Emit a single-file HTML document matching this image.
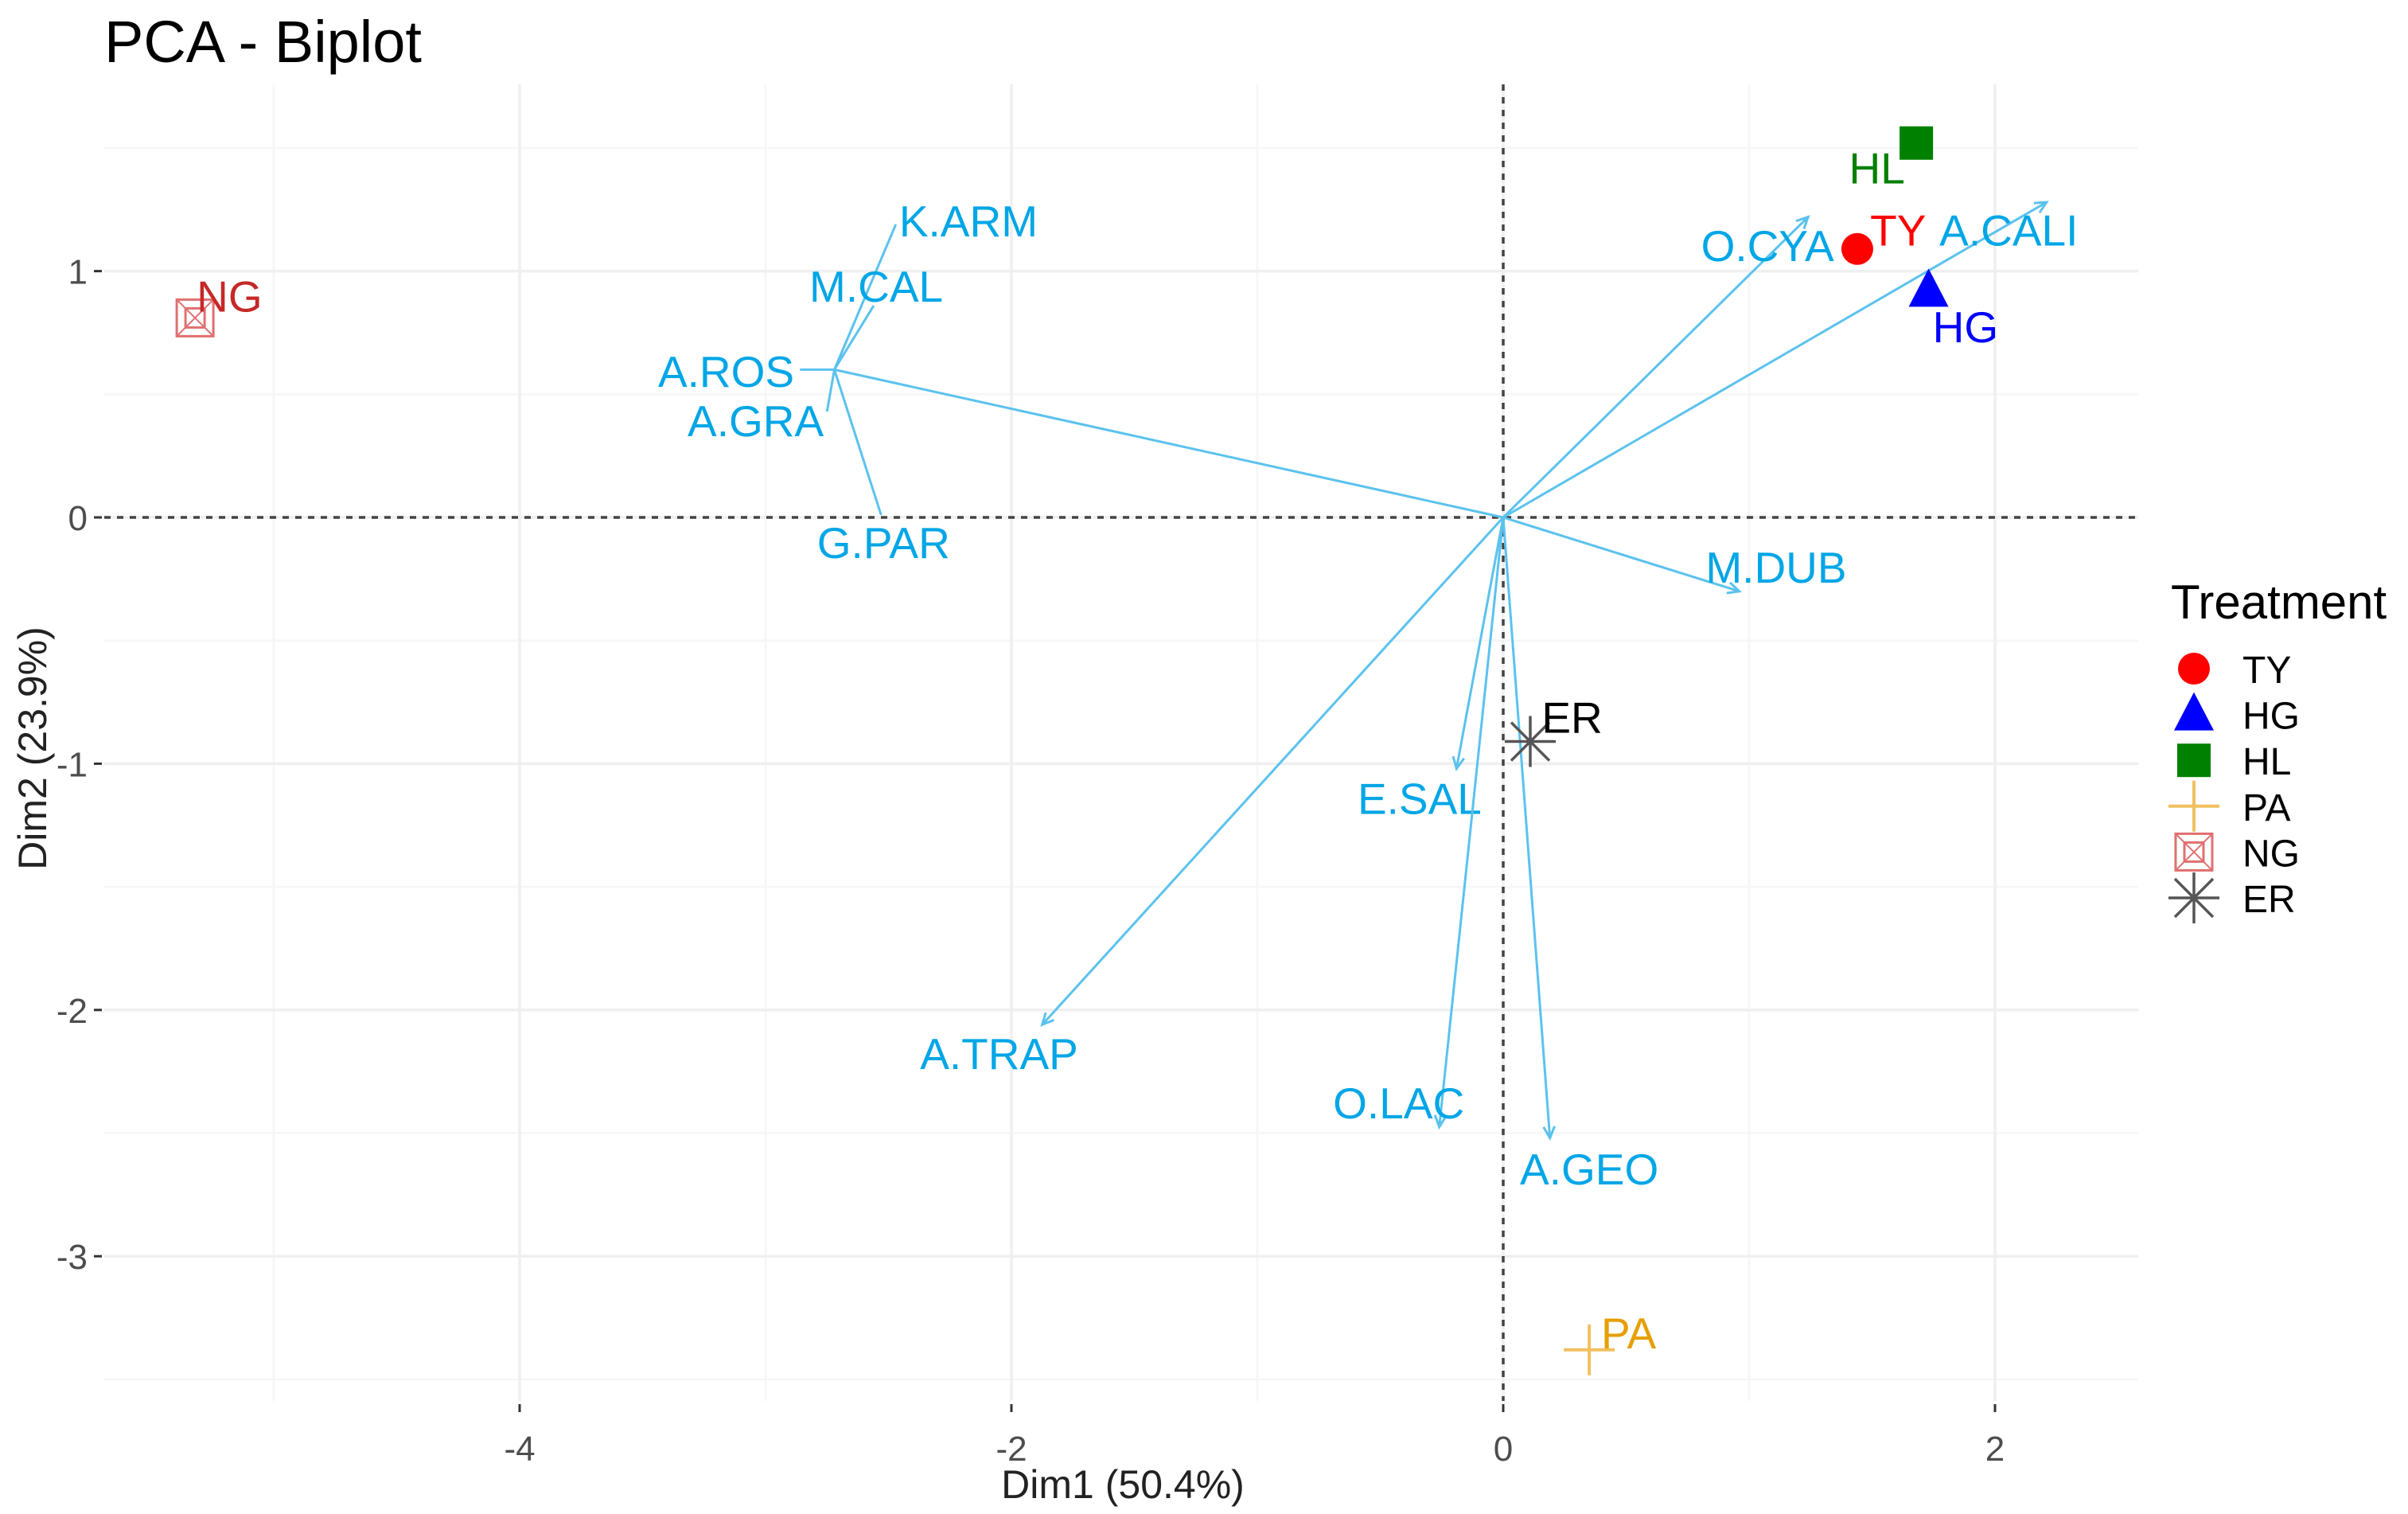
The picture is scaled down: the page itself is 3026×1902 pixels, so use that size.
<!DOCTYPE html>
<html><head><meta charset="utf-8"><style>
html,body{margin:0;padding:0;background:#fff;}
svg{display:block;font-family:"Liberation Sans",Arial,sans-serif;}
</style></head><body>
<svg id="chart" width="3026" height="1902" viewBox="0 0 3026 1902" xmlns="http://www.w3.org/2000/svg">
<rect width="3026" height="1902" fill="#fff"/>
<text x="131" y="78" font-size="74" fill="#000">PCA - Biplot</text>
<g id="grid"></g>
<g id="ref"></g>
<g id="arrows"></g>
<g id="points"></g>
<g id="axes"></g>
<text x="1411" y="1882" font-size="50" text-anchor="middle" fill="#222">Dim1 (50.4%)</text>
<text transform="translate(58,940) rotate(-90)" font-size="50" text-anchor="middle" fill="#222">Dim2 (23.9%)</text>
<g id="legend">
<text x="2728" y="777" font-size="60" fill="#000">Treatment</text>
</g>
</svg>
<script>
// ---- data ----
const xTicks = [-4, -2, 0, 2];
const xMinor = [-5, -3, -1, 1];
const yTicks = [-3, -2, -1, 0, 1];
const yMinor = [-3.5, -2.5, -1.5, -0.5, 0.5, 1.5];
const varNames = ["K.ARM","M.CAL","A.ROS","A.GRA","G.PAR","O.CYA","A.CALI","M.DUB","E.SAL","A.TRAP","O.LAC","A.GEO"];
const varStartX = [-2.72,-2.72,-2.72,-2.72,-2.72,0,0,0,0,0,0,0];
const varStartY = [0.60,0.60,0.60,0.60,0.60,0,0,0,0,0,0,0];
const varEndX = [-2.47,-2.56,-2.86,-2.75,-2.53,1.24,2.21,0.96,-0.19,-1.875,-0.26,0.19];
const varEndY = [1.19,0.86,0.60,0.43,0.01,1.22,1.28,-0.30,-1.02,-2.06,-2.475,-2.52];
const varLabelX = [-2.175,-2.55,-3.16,-3.04,-2.52,1.075,2.056,1.11,-0.34,-2.05,-0.425,0.35];
const varLabelY = [1.205,0.94,0.594,0.394,-0.10,1.105,1.169,-0.20,-1.14,-2.175,-2.375,-2.644];
const hubX = [-2.72];
const hubY = [0.60];
const groups = ["TY","HG","HL","PA","NG","ER"];
const groupX = [1.44,1.73,1.68,0.35,-5.32,0.11];
const groupY = [1.09,0.92,1.52,-3.38,0.81,-0.91];
const groupLabelX = [1.606,1.88,1.52,0.51,-5.18,0.28];
const groupLabelY = [1.169,0.775,1.42,-3.31,0.90,-0.81];
const groupColors = ["#FF0000","#0000FF","#008000","#E69F00","#C62828","#222222"];

// ---- scales ----
const X0 = 1889, Y0 = 650, KX = 309, KY = 309.4;
const PL = 131, PR = 2687, PT = 106, PB = 1760;
const sx = v => X0 + v * KX;
const sy = v => Y0 - v * KY;
const NS = "http://www.w3.org/2000/svg";
function mk(tag, attrs, parent) {
  const e = document.createElementNS(NS, tag);
  for (const k in attrs) e.setAttribute(k, attrs[k]);
  parent.appendChild(e);
  return e;
}
const grid = document.getElementById('grid');
xMinor.forEach(v => {
  const l = mk('line', {x1: sx(v), x2: sx(v), y1: PT, y2: PB, stroke: '#F6F6F6', 'stroke-width': 2.5}, grid);
  
  
});
yMinor.forEach(v => {
  const l = mk('line', {x1: PL, x2: PR, y1: sy(v), y2: sy(v), stroke: '#F6F6F6', 'stroke-width': 2.5}, grid);
  
  
});
xTicks.forEach(v => {
  const l = mk('line', {x1: sx(v), x2: sx(v), y1: PT, y2: PB, stroke: '#EFEFEF', 'stroke-width': 3.5}, grid);
  
  
});
yTicks.forEach(v => {
  const l = mk('line', {x1: PL, x2: PR, y1: sy(v), y2: sy(v), stroke: '#EFEFEF', 'stroke-width': 3.5}, grid);
  
  
});
const ref = document.getElementById('ref');
let r1 = mk('line', {x1: PL, x2: PR, y1: sy(0), y2: sy(0), stroke: '#444', 'stroke-width': 3.5, 'stroke-dasharray': '8 8'}, ref);


let r2 = mk('line', {x1: sx(0), x2: sx(0), y1: PT, y2: PB, stroke: '#444', 'stroke-width': 3.5, 'stroke-dasharray': '8 8'}, ref);



const axes = document.getElementById('axes');
xTicks.forEach(v => {
  const t = mk('line', {x1: sx(v), x2: sx(v), y1: PB + 4, y2: PB + 14, stroke: '#333', 'stroke-width': 3}, axes);
  
  
  const tx = mk('text', {x: sx(v), y: 1835, 'font-size': 44, 'text-anchor': 'middle', fill: '#4D4D4D'}, axes);
  tx.textContent = v;
  
  
});
yTicks.forEach(v => {
  const t = mk('line', {x1: 118, x2: 128, y1: sy(v), y2: sy(v), stroke: '#333', 'stroke-width': 3}, axes);
  
  
  const tx = mk('text', {x: 110, y: sy(v) + 16, 'font-size': 44, 'text-anchor': 'end', fill: '#4D4D4D'}, axes);
  tx.textContent = v;
  
  
});

// arrows
const arrows = document.getElementById('arrows');
const hub = mk('line', {x1: sx(0), y1: sy(0), x2: sx(hubX[0]), y2: sy(hubY[0]), stroke: '#5BC2EE', 'stroke-width': 3}, arrows);


varNames.forEach((n, i) => {
  const x1 = sx(varStartX[i]), y1 = sy(varStartY[i]), x2 = sx(varEndX[i]), y2 = sy(varEndY[i]);
  const g = mk('g', {}, arrows);
  
  
  mk('line', {x1, y1, x2, y2, stroke: '#5BC2EE', 'stroke-width': 3}, g);
  if (varStartX[i] === 0 && varStartY[i] === 0) {
    const a = Math.atan2(y2 - y1, x2 - x1), L = 16, w = 0.45;
    const p1 = [x2 - L * Math.cos(a - w), y2 - L * Math.sin(a - w)];
    const p2 = [x2 - L * Math.cos(a + w), y2 - L * Math.sin(a + w)];
    mk('polyline', {points: `${p1[0]},${p1[1]} ${x2},${y2} ${p2[0]},${p2[1]}`, fill: 'none', stroke: '#5BC2EE', 'stroke-width': 3}, g);
  }
  const t = mk('text', {x: sx(varLabelX[i]), y: sy(varLabelY[i]) + 20, 'font-size': 55, 'text-anchor': 'middle', fill: '#00A6E6'}, arrows);
  t.textContent = n;
  
  
});

// markers
function marker(k, cx, cy, parent) {
  const c = groupColors[k];
  if (k === 0) mk('circle', {cx, cy, r: 20, fill: c}, parent);
  else if (k === 1) mk('polygon', {points: `${cx},${cy - 28} ${cx - 25},${cy + 20} ${cx + 25},${cy + 20}`, fill: c}, parent);
  else if (k === 2) mk('rect', {x: cx - 21, y: cy - 21, width: 42, height: 42, fill: c}, parent);
  else if (k === 3) {
    mk('line', {x1: cx - 32, x2: cx + 32, y1: cy, y2: cy, stroke: '#F0C060', 'stroke-width': 4}, parent);
    mk('line', {x1: cx, x2: cx, y1: cy - 32, y2: cy + 32, stroke: '#F0C060', 'stroke-width': 4}, parent);
  } else if (k === 4) {
    mk('rect', {x: cx - 23, y: cy - 23, width: 46, height: 46, fill: 'none', stroke: '#E07070', 'stroke-width': 3}, parent);
    mk('rect', {x: cx - 12, y: cy - 12, width: 24, height: 24, fill: 'none', stroke: '#E07070', 'stroke-width': 3}, parent);
    mk('path', {d: `M${cx - 23},${cy - 23}L${cx + 23},${cy + 23}M${cx + 23},${cy - 23}L${cx - 23},${cy + 23}`, stroke: '#E07070', 'stroke-width': 2}, parent);
  } else {
    mk('path', {d: `M${cx - 32},${cy}H${cx + 32}M${cx},${cy - 32}V${cy + 32}M${cx - 24},${cy - 24}L${cx + 24},${cy + 24}M${cx + 24},${cy - 24}L${cx - 24},${cy + 24}`, stroke: '#555', 'stroke-width': 3.5}, parent);
  }
}
const pts = document.getElementById('points');
groups.forEach((gname, k) => {
  const g = mk('g', {}, pts);
  
  
  marker(k, sx(groupX[k]), sy(groupY[k]), g);
  const t = mk('text', {x: sx(groupLabelX[k]), y: sy(groupLabelY[k]) + 20, 'font-size': 55, 'text-anchor': 'middle', fill: groupColors[k] === '#222222' ? '#000' : groupColors[k]}, pts);
  t.textContent = gname;
  
  
});

// legend
const leg = document.getElementById('legend');
groups.forEach((gname, k) => {
  const cy = 840 + k * 57.6;
  const g = mk('g', {}, leg);
  
  
  marker(k, 2757, cy, g);
  const t = mk('text', {x: 2818, y: cy + 18, 'font-size': 48, fill: '#000'}, g);
  t.textContent = gname;
});
</script>
</body></html>
